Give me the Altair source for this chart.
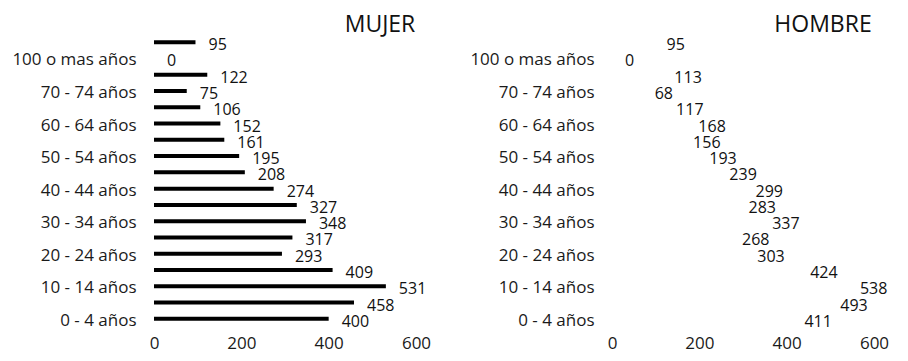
import altair as alt
import pandas as pd

categorias = [
    "0 - 4 años", "5 - 9 años", "10 - 14 años", "15 - 19 años", "20 - 24 años",
    "25 - 29 años", "30 - 34 años", "35 - 39 años", "40 - 44 años", "45 - 49 años",
    "50 - 54 años", "55 - 59 años", "60 - 64 años", "65 - 69 años", "70 - 74 años",
    "75 - 79 años", "100 o mas años", "80 - 99 años",
]
mujer = [400, 458, 531, 409, 293, 317, 348, 327, 274, 208, 195, 161, 152, 106, 75, 122, 0, 95]
hombre = [411, 493, 538, 424, 303, 268, 337, 283, 299, 239, 193, 156, 168, 117, 68, 113, 0, 95]
ticks_x = [0, 200, 400, 600]

FONT = "Open Sans"
etiquetas_visibles = categorias[0::2]
label_expr = "indexof([" + ",".join("'" + c + "'" for c in etiquetas_visibles) + "], datum.value) >= 0 ? datum.value : ''"
orden = list(reversed(categorias))


def panel(valores, titulo, color_barra, title_dx):
    df = pd.DataFrame({"edad": categorias, "valor": valores})
    base = alt.Chart(df).encode(
        y=alt.Y(
            "edad:N",
            sort=orden,
            scale=alt.Scale(paddingInner=0.0, paddingOuter=0.0),
            axis=alt.Axis(
                title=None, domain=False, ticks=False, labelPadding=18, labelOffset=2,
                labelExpr=label_expr, labelFontSize=17, labelFont=FONT,
                labelColor="#1a1a1a",
            ),
        ),
        x=alt.X(
            "valor:Q",
            scale=alt.Scale(domain=[0, 600], nice=False),
            axis=alt.Axis(
                title=None, domain=False, ticks=False, grid=False, values=ticks_x,
                labelFlush=False, labelPadding=8, labelFontSize=17, labelFont=FONT,
                labelColor="#1a1a1a",
            ),
        ),
    )
    barras = base.mark_bar(size=4, color=color_barra)
    textos = base.mark_text(align="left", baseline="middle", dx=13, dy=3,
                            fontSize=16, font=FONT, color="#111111").encode(text="valor:Q")
    return alt.layer(barras, textos).properties(
        width=262,
        height=293,
        title=alt.TitleParams(
            titulo, anchor="middle", dx=title_dx, offset=-3, fontSize=23, font=FONT,
            fontWeight="normal", color="#111111",
        ),
    )


chart = alt.hconcat(
    panel(mujer, "MUJER", "#000000", 95),
    panel(hombre, "HOMBRE", "#ffffff", 80),
    spacing=38,
).configure_view(stroke=None).properties(
    padding={"left": 3, "top": 6, "right": 4, "bottom": 2}
)

chart.save("out.html", embed_options={"renderer": "svg", "actions": False})
